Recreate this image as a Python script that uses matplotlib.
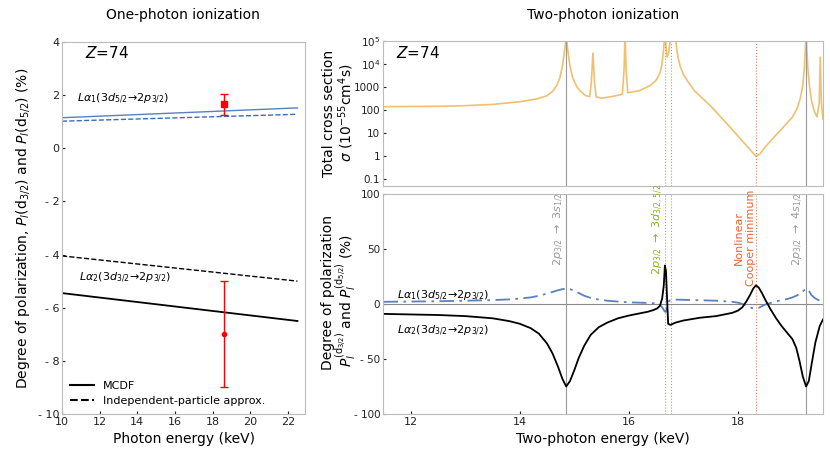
import matplotlib
matplotlib.use("Agg")
import matplotlib.pyplot as plt

# Left panel data
e1 = [10, 22.5]
la1_mcdf = [1.15, 1.52]
la1_ipa = [1.02, 1.28]
la2_mcdf = [-5.45, -6.5]
la2_ipa = [-4.05, -5.0]
exp_e = [18.6, 18.6]
exp_p = [1.65, -7.0]
exp_err = [0.4, 2.0]

# Right top: cross section
cs_e = [11.5, 12.5, 13.0, 13.5, 14.0, 14.3, 14.5, 14.6, 14.68, 14.74, 14.78, 14.81, 14.83, 14.85, 14.87, 14.89, 14.92, 14.96, 15.0, 15.05, 15.1, 15.2, 15.28, 15.31, 15.34, 15.37, 15.4, 15.5, 15.7, 15.88, 15.91, 15.93, 15.95, 15.98, 16.2, 16.4, 16.5, 16.56, 16.6, 16.63, 16.66, 16.7, 16.73, 16.77, 16.8, 16.85, 16.87, 16.9, 16.94, 17.0, 17.1, 17.2, 17.35, 17.5, 17.8, 18.1, 18.25, 18.33, 18.4, 18.5, 18.8, 19.0, 19.08, 19.14, 19.19, 19.22, 19.25, 19.28, 19.31, 19.35, 19.4, 19.45, 19.49, 19.51, 19.53, 19.56]
cs_v = [140, 145, 155, 175, 230, 300, 420, 650, 1200, 2800, 8000, 2.5e4, 6e4, 2e5, 6e4, 2.5e4, 8000, 3000, 1700, 1000, 700, 430, 380, 1500, 3e4, 1500, 370, 330, 390, 480, 5000, 2e5, 5000, 560, 700, 1200, 2000, 3500, 8000, 3e4, 2e5, 2e4, 3e4, 2e5, 2e5, 2e5, 6e4, 2e4, 8000, 3500, 1500, 700, 320, 150, 25, 4, 1.6, 1.0, 1.2, 2.5, 15, 50, 110, 300, 1200, 8000, 2e5, 8000, 1200, 250, 90, 50, 200, 2e4, 200, 40]

# Right bottom: polarization
pb_e = [11.5, 12.5, 13.0, 13.5, 13.8, 14.0, 14.2, 14.35, 14.5, 14.6, 14.7, 14.78, 14.85, 14.92, 15.0, 15.08, 15.18, 15.3, 15.45, 15.6, 15.8, 16.0, 16.2, 16.35, 16.45, 16.52, 16.57, 16.61, 16.64, 16.66, 16.68, 16.7, 16.72, 16.76, 16.85, 17.0, 17.3, 17.6, 17.9, 18.0, 18.08, 18.15, 18.22, 18.28, 18.33, 18.38, 18.44, 18.5, 18.6, 18.7, 18.8, 18.9, 19.0, 19.07, 19.13, 19.19, 19.25, 19.3, 19.35, 19.42, 19.5, 19.56]
pb_a2 = [-9, -10, -11, -13, -15.5, -18, -22, -27, -36, -45, -57, -68, -75, -70, -60, -49, -38, -28, -21, -17, -13, -10.5, -8.5, -7, -5.5, -4, -1.5, 5, 17, 35, 30, 5, -18, -19, -17, -15, -12.5, -11, -8, -6, -3, 2, 8, 14, 17, 15, 10, 4, -5, -13, -20, -26, -32, -40, -52, -66, -75, -70, -55, -35, -20, -14]
pb_a1 = [2, 2.5, 3, 3.5, 4.2, 5, 6, 7.5, 9.5, 11, 12.5, 13.5, 14, 13.5, 12, 10, 7.5, 5.5, 4, 3, 2.2, 1.5, 1.2, 1, 0.7, 0.3, -1, -3, -5.5, -7, -7, -3, 2, 3.5, 4, 3.8, 3.4, 3, 2, 1.2, 0, -1.5, -3, -4, -4, -3.5, -2, -0.5, 1, 2.5, 3.5, 4.5, 6, 7.5, 9, 11.5, 14, 12, 8, 5, 3, 2]

vl_e = [14.85, 16.67, 16.77, 18.33, 19.25]

frame = "#bbbbbb"
fig = plt.figure(figsize=(8.3, 4.61), dpi=100)

def style(ax, ls=8):
    for s in ax.spines.values():
        s.set_color(frame)
    ax.tick_params(colors="#222222", labelsize=ls, direction="in", length=2, pad=2)

# Left
axL = fig.add_axes([62/830, 1-414/461, 243/830, 372/461])
style(axL)
axL.plot(e1, la1_mcdf, color="#5b7fbf", lw=1)
axL.plot(e1, la1_ipa, color="#3a6bc0", lw=1, ls="--")
axL.plot(e1, la2_mcdf, color="black", lw=1.3)
axL.plot(e1, la2_ipa, color="black", lw=1, ls="--")
axL.errorbar(exp_e[:1], exp_p[:1], yerr=exp_err[:1], fmt="s", color="red", ms=4, capsize=3, elinewidth=1)
axL.errorbar(exp_e[1:], exp_p[1:], yerr=exp_err[1:], fmt="o", color="red", ms=3, capsize=3, elinewidth=1)
axL.set_xlim(10, 22.9)
axL.set_ylim(-10, 4)
axL.set_xticks([10, 12, 14, 16, 18, 20, 22])
yt = [-10, -8, -6, -4, -2, 0, 2, 4]
axL.set_yticks(yt)
axL.set_yticklabels([("- %d" % -v) if v < 0 else str(v) for v in yt])
axL.plot([], [], color="black", lw=1.5, label="MCDF")
axL.plot([], [], color="black", lw=1.5, ls="--", label="Independent-particle approx.")
axL.legend(loc="lower left", frameon=False, fontsize=8, handlelength=2.2, borderaxespad=0.3)
axL.text(11.2, 3.4, "$Z$=74", fontsize=11)
axL.text(10.8, 1.75, r"$L\alpha_1(3d_{5/2}\!\rightarrow\!2p_{3/2})$", fontsize=8)
axL.text(10.9, -5.0, r"$L\alpha_2(3d_{3/2}\!\rightarrow\!2p_{3/2})$", fontsize=8)
axL.set_xlabel("Photon energy (keV)", fontsize=10)
axL.set_ylabel(r"Degree of polarization, $P_l$(d$_{3/2}$) and $P_l$(d$_{5/2}$) (%)", fontsize=10)
fig.text(183/830, 1-15/461, "One-photon ionization", ha="center", va="center", fontsize=10)
fig.text(603/830, 1-15/461, "Two-photon ionization", ha="center", va="center", fontsize=10)

vcols = ["#999999", "#9ab830", "#9ab830", "#f08060", "#999999"]
vls = ["-", ":", ":", ":", "-"]

# Right top
axT = fig.add_axes([383/830, 1-186/461, 440/830, 145/461])
style(axT, 7.5)
axT.plot(cs_e, cs_v, color="#f0c070", lw=1.2)
axT.set_yscale("log")
axT.set_ylim(0.05, 1e5)
axT.set_xlim(11.49, 19.56)
axT.set_xticks([])
axT.set_yticks([0.1, 1, 10, 100, 1000, 1e4, 1e5])
axT.set_yticklabels(["0.1", "1", "10", "100", "1000", "10$^4$", "10$^5$"])
axT.minorticks_off()
for x, c, l in zip(vl_e, vcols, vls):
    axT.axvline(x, color=c, ls=l, lw=0.8)
axT.text(0.03, 0.88, "$Z$=74", transform=axT.transAxes, fontsize=11)
fig.text(329/830, 1-113/461, "Total cross section", rotation=90, ha="center", va="center", fontsize=10)
fig.text(346/830, 1-113/461, r"$\sigma$ (10$^{-55}$cm$^4$s)", rotation=90, ha="center", va="center", fontsize=10)

# Right bottom
axB = fig.add_axes([383/830, 1-414/461, 440/830, 220/461])
style(axB, 7.5)
axB.axhline(0, color="#888888", lw=0.8)
for x, c, l in zip(vl_e, vcols, vls):
    axB.axvline(x, color=c, ls=l, lw=0.8)
axB.plot(pb_e, pb_a1, color="#5b7fbf", lw=1.3, ls=(0, (8, 3, 1.5, 3)))
axB.plot(pb_e, pb_a2, color="black", lw=1.3)
axB.set_xlim(11.49, 19.56)
axB.set_ylim(-100, 100)
axB.set_xticks([12, 14, 16, 18])
axB.tick_params(axis="x", labelsize=8)
bt = [-100, -50, 0, 50, 100]
axB.set_yticks(bt)
axB.set_yticklabels([("- %d" % -v) if v < 0 else str(v) for v in bt])
axB.text(11.75, 5, r"$L\alpha_1(3d_{5/2}\!\rightarrow\!2p_{3/2})$", fontsize=8)
axB.text(11.75, -27, r"$L\alpha_2(3d_{3/2}\!\rightarrow\!2p_{3/2})$", fontsize=8)
axB.text(14.72, 68, r"2$p_{3/2}$ $\rightarrow$ 3$s_{1/2}$", rotation=90, color="#999999", fontsize=8, ha="center", va="center")
axB.text(16.54, 68, r"2$p_{3/2}$ $\rightarrow$ 3$d_{3/2,5/2}$", rotation=90, color="#8ab020", fontsize=8, ha="center", va="center")
axB.text(18.13, 60, "Nonlinear\nCooper minimum", rotation=90, color="#f06030", fontsize=8, ha="center", va="center")
axB.text(19.1, 68, r"2$p_{3/2}$ $\rightarrow$ 4$s_{1/2}$", rotation=90, color="#999999", fontsize=8, ha="center", va="center")
axB.set_xlabel("Two-photon energy (keV)", fontsize=10)
fig.text(328/830, 1-292/461, "Degree of polarization", rotation=90, ha="center", va="center", fontsize=10)
fig.text(346/830, 1-300/461, r"$P_l^{(\mathrm{d}_{3/2})}$ and $P_l^{(\mathrm{d}_{5/2})}$ (%)", rotation=90, ha="center", va="center", fontsize=10)

fig.savefig("out.png", dpi=100)
